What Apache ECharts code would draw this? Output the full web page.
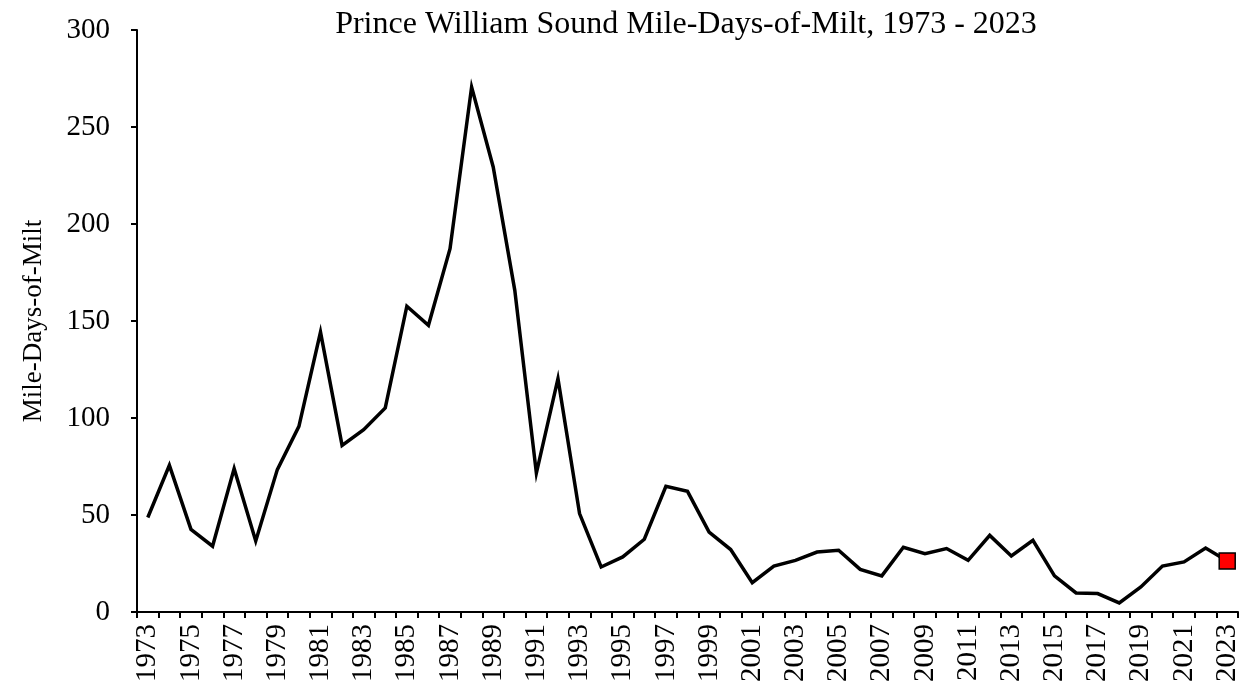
<!DOCTYPE html>
<html>
<head>
<meta charset="utf-8">
<script src="https://cdn.jsdelivr.net/npm/echarts@6/dist/echarts.min.js"></script>
<style>
  html, body { margin: 0; padding: 0; background: #fff; }
  #chart { width: 1242px; height: 690px; }
</style>
</head>
<body>
<div id="chart"></div>
<script>
const years = [];
for (let y = 1973; y <= 2023; y++) years.push(String(y));

const mileDays = [
  48.7, 75.6, 42.6, 33.9, 73.9, 36.6, 73.4, 95.7, 144.3, 85.9,
  94.0, 105.2, 157.6, 147.8, 187.3, 270.6, 229.4, 165.8, 71.6, 120.3,
  50.7, 23.2, 28.4, 37.5, 64.8, 62.2, 41.2, 32.2, 15.1, 23.7,
  26.6, 30.9, 31.8, 22.0, 18.6, 33.4, 30.1, 32.7, 26.6, 39.5,
  28.9, 37.0, 18.6, 9.8, 9.5, 4.7, 12.9, 23.7, 25.8, 33.0,
  26.3
];

const yTicks = { min: 0, max: 300, interval: 50 };
const titleText = 'Prince William Sound Mile-Days-of-Milt, 1973 - 2023';
const yName = 'Mile-Days-of-Milt';

const lastIdx = mileDays.length - 1;
const highlight = [[years[lastIdx], mileDays[lastIdx]]];

const FONT = '"Liberation Serif", "Times New Roman", serif';

const chart = echarts.init(document.getElementById('chart'), null, { renderer: 'canvas' });
chart.setOption({
  animation: false,
  backgroundColor: '#ffffff',
  title: {
    text: titleText,
    left: 681,
    top: 4,
    textAlign: 'center',
    textStyle: { fontFamily: FONT, fontSize: 32, fontWeight: 'normal', color: '#000' }
  },
  grid: { left: 137, right: 4, top: 30, bottom: 78, containLabel: false },
  xAxis: {
    type: 'category',
    data: years,
    boundaryGap: true,
    axisLine: { show: true, lineStyle: { color: '#000', width: 2 } },
    axisTick: { show: true, alignWithLabel: false, interval: 0, length: 6, lineStyle: { color: '#000', width: 2 } },
    axisLabel: {
      interval: 1,
      rotate: 90,
      margin: 12,
      fontFamily: FONT,
      fontSize: 29,
      color: '#000'
    },
    splitLine: { show: false }
  },
  yAxis: {
    type: 'value',
    min: yTicks.min,
    max: yTicks.max,
    interval: yTicks.interval,
    name: yName,
    nameLocation: 'middle',
    nameGap: 90,
    nameTextStyle: { fontFamily: FONT, fontSize: 27, color: '#000' },
    axisLine: { show: true, lineStyle: { color: '#000', width: 2 } },
    axisTick: { show: true, inside: false, length: 6, lineStyle: { color: '#000', width: 2 } },
    axisLabel: { margin: 27, fontFamily: FONT, fontSize: 29, color: '#000' },
    splitLine: { show: false }
  },
  series: [
    {
      type: 'line',
      data: mileDays,
      symbol: 'none',
      lineStyle: { color: '#000', width: 3.5, join: 'miter' },
      z: 2
    },
    {
      type: 'scatter',
      data: highlight,
      symbol: 'rect',
      symbolSize: 16,
      itemStyle: { color: '#ff0000', opacity: 1, borderColor: '#000', borderWidth: 1.5 },
      z: 5
    }
  ]
});
</script>
</body>
</html>
